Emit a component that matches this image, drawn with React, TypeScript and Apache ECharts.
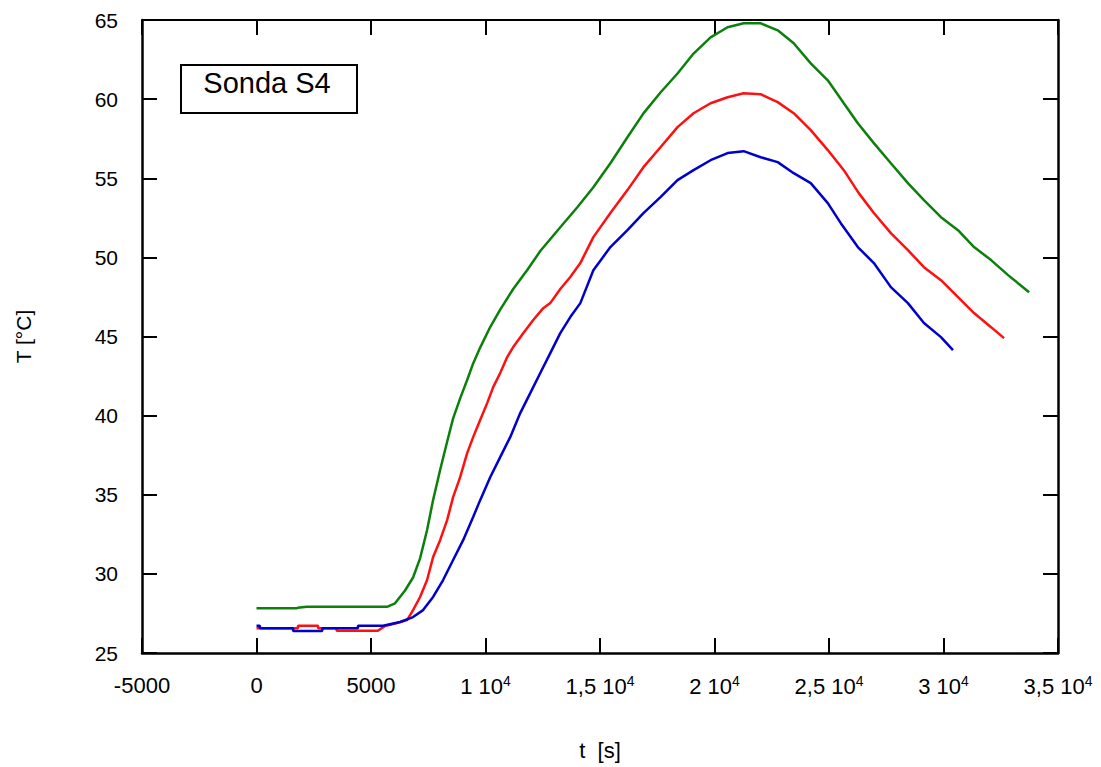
import React, { useEffect, useRef } from "react";
import * as echarts from "echarts";

// ---- Data ----
const xTicks = [-5000, 0, 5000, 10000, 15000, 20000, 25000, 30000, 35000];
const xTickLabels = ["-5000", "0", "5000", "1 10{sup|4}", "1,5 10{sup|4}", "2 10{sup|4}", "2,5 10{sup|4}", "3 10{sup|4}", "3,5 10{sup|4}"];

const greenT = [0, 1750, 1800, 2200, 5700, 6049, 6487, 6837, 7143, 7449, 7712, 8018, 8324, 8586, 8893, 9199, 9461, 9767, 10205, 10642, 11210, 11823, 12392, 13266, 14010, 14710, 15454, 16198, 16897, 17641, 18385, 19085, 19828, 20572, 21272, 22016, 22760, 23459, 24203, 24947, 25647, 26259, 26959, 27702, 28446, 29146, 29889, 30633, 31333, 32077, 32820, 33739];
const greenV = [27.82, 27.82, 27.86, 27.92, 27.92, 28.14, 28.95, 29.77, 30.98, 32.77, 34.67, 36.56, 38.35, 39.83, 41.09, 42.25, 43.3, 44.3, 45.6, 46.7, 48.0, 49.2, 50.4, 51.9, 53.17, 54.43, 55.95, 57.59, 59.1, 60.42, 61.62, 62.88, 63.9, 64.54, 64.79, 64.79, 64.35, 63.53, 62.26, 61.19, 59.74, 58.48, 57.22, 55.95, 54.69, 53.62, 52.54, 51.72, 50.65, 49.83, 48.88, 47.8];

const redT = [0, 1810, 1811, 2690, 2691, 3500, 3501, 5300, 5600, 6137, 6574, 6837, 7143, 7449, 7712, 8018, 8324, 8586, 8893, 9199, 9461, 9767, 10073, 10336, 10642, 10948, 11210, 11648, 12085, 12522, 12829, 13266, 13703, 14141, 14710, 15454, 16198, 16897, 17641, 18385, 19085, 19828, 20572, 21272, 22016, 22760, 23459, 24203, 24947, 25647, 26300, 26959, 27702, 28446, 29146, 29889, 30633, 31333, 32077, 32645];
const redV = [26.56, 26.56, 26.72, 26.72, 26.56, 26.56, 26.4, 26.4, 26.7, 26.9, 27.08, 27.71, 28.54, 29.61, 31.06, 32.13, 33.4, 34.85, 36.11, 37.63, 38.64, 39.72, 40.79, 41.8, 42.69, 43.7, 44.33, 45.21, 46.04, 46.79, 47.11, 48.0, 48.76, 49.64, 51.28, 52.8, 54.25, 55.7, 56.96, 58.23, 59.11, 59.74, 60.12, 60.37, 60.31, 59.81, 59.11, 58.04, 56.78, 55.51, 54.06, 52.8, 51.53, 50.46, 49.38, 48.56, 47.49, 46.48, 45.59, 44.9];

const blueT = [0, 150, 151, 1600, 1601, 2870, 2871, 4430, 4431, 5530, 6268, 6837, 7274, 7712, 8149, 8586, 9024, 9461, 9767, 10205, 10642, 11079, 11517, 11954, 12392, 12829, 13266, 13703, 14141, 14710, 15454, 16198, 16897, 17641, 18385, 19085, 19828, 20572, 21272, 22016, 22760, 23459, 24203, 24947, 25515, 26259, 26959, 27702, 28446, 29146, 29889, 30414];
const blueV = [26.72, 26.72, 26.56, 26.56, 26.39, 26.39, 26.56, 26.56, 26.72, 26.72, 26.96, 27.27, 27.71, 28.54, 29.61, 30.88, 32.13, 33.59, 34.66, 36.11, 37.38, 38.64, 40.16, 41.42, 42.69, 43.95, 45.21, 46.23, 47.11, 49.19, 50.65, 51.72, 52.8, 53.81, 54.88, 55.51, 56.14, 56.59, 56.71, 56.33, 56.02, 55.32, 54.69, 53.43, 52.16, 50.65, 49.64, 48.12, 47.11, 45.85, 44.96, 44.14];

const zip = (t: number[], v: number[]) => t.map((x, i) => [x, v[i]]);

const FONT = "'Liberation Sans', Arial, Helvetica, sans-serif";

export default function App() {
  const ref = useRef<HTMLDivElement>(null);
  useEffect(() => {
    if (!ref.current) return;
    const chart = echarts.init(ref.current, null, { renderer: "svg" });
    const tickCommon = { show: true, inside: true, length: 15, lineStyle: { color: "#000", width: 2 } };
    const lineCommon = { show: true, onZero: false, lineStyle: { color: "#000", width: 2.5 } };
    const lineSeries = (name: string, color: string, t: number[], v: number[]) => ({
      type: "line",
      name,
      data: zip(t, v),
      showSymbol: false,
      symbol: "none",
      lineStyle: { color, width: 2.5 },
      itemStyle: { color },
      xAxisIndex: 0,
      yAxisIndex: 0,
    });
    chart.setOption({
      animation: false,
      backgroundColor: "#fff",
      textStyle: { fontFamily: FONT },
      grid: { left: 142, right: 43, top: 20, bottom: 114 },
      xAxis: [
        {
          type: "value",
          min: -5000,
          max: 35000,
          interval: 5000,
          position: "bottom",
          axisLine: lineCommon,
          axisTick: tickCommon,
          splitLine: { show: false },
          axisLabel: {
            margin: 21,
            color: "#000",
            fontSize: 22,
            fontFamily: FONT,
            formatter: (val: number) => {
              const i = xTicks.indexOf(val);
              return i >= 0 ? xTickLabels[i] : "";
            },
            rich: {
              sup: { fontSize: 14, fontFamily: FONT, color: "#000", padding: [0, 0, 11, 0] },
            },
          },
          name: "t  [s]",
          nameLocation: "middle",
          nameGap: 86,
          nameTextStyle: { color: "#000", fontSize: 22, fontFamily: FONT },
        },
        {
          type: "value",
          min: -5000,
          max: 35000,
          interval: 5000,
          position: "top",
          axisLine: { show: true, onZero: false, lineStyle: { color: "#000", width: 2 } },
          axisTick: tickCommon,
          axisLabel: { show: false },
          splitLine: { show: false },
        },
      ],
      yAxis: [
        {
          type: "value",
          min: 25,
          max: 65,
          interval: 5,
          position: "left",
          axisLine: lineCommon,
          axisTick: tickCommon,
          splitLine: { show: false },
          axisLabel: { margin: 24, color: "#000", fontSize: 21, fontFamily: FONT },
          name: "T [°C]",
          nameLocation: "middle",
          nameGap: 108,
          nameRotate: 90,
          nameTextStyle: { color: "#000", fontSize: 21, fontFamily: FONT },
        },
        {
          type: "value",
          min: 25,
          max: 65,
          interval: 5,
          position: "right",
          axisLine: lineCommon,
          axisTick: tickCommon,
          axisLabel: { show: false },
          splitLine: { show: false },
        },
      ],
      graphic: [
        {
          type: "rect",
          left: 180,
          top: 64,
          shape: { width: 176, height: 48 },
          style: { fill: "#fff", stroke: "#000", lineWidth: 2 },
          z: 10,
        },
        {
          type: "text",
          x: 267,
          y: 83,
          style: {
            text: "Sonda S4",
            fontSize: 29,
            fontFamily: FONT,
            fill: "#000",
            align: "center",
            verticalAlign: "middle",
          },
          z: 11,
        },
      ],
      series: [
        lineSeries("Green", "#0b800b", greenT, greenV),
        lineSeries("Red", "#ff1010", redT, redV),
        lineSeries("Blue", "#0000cc", blueT, blueV),
      ],
    });
    return () => chart.dispose();
  }, []);
  return <div ref={ref} style={{ position: "fixed", left: 0, top: 0, width: 1101, height: 767 }} />;
}
